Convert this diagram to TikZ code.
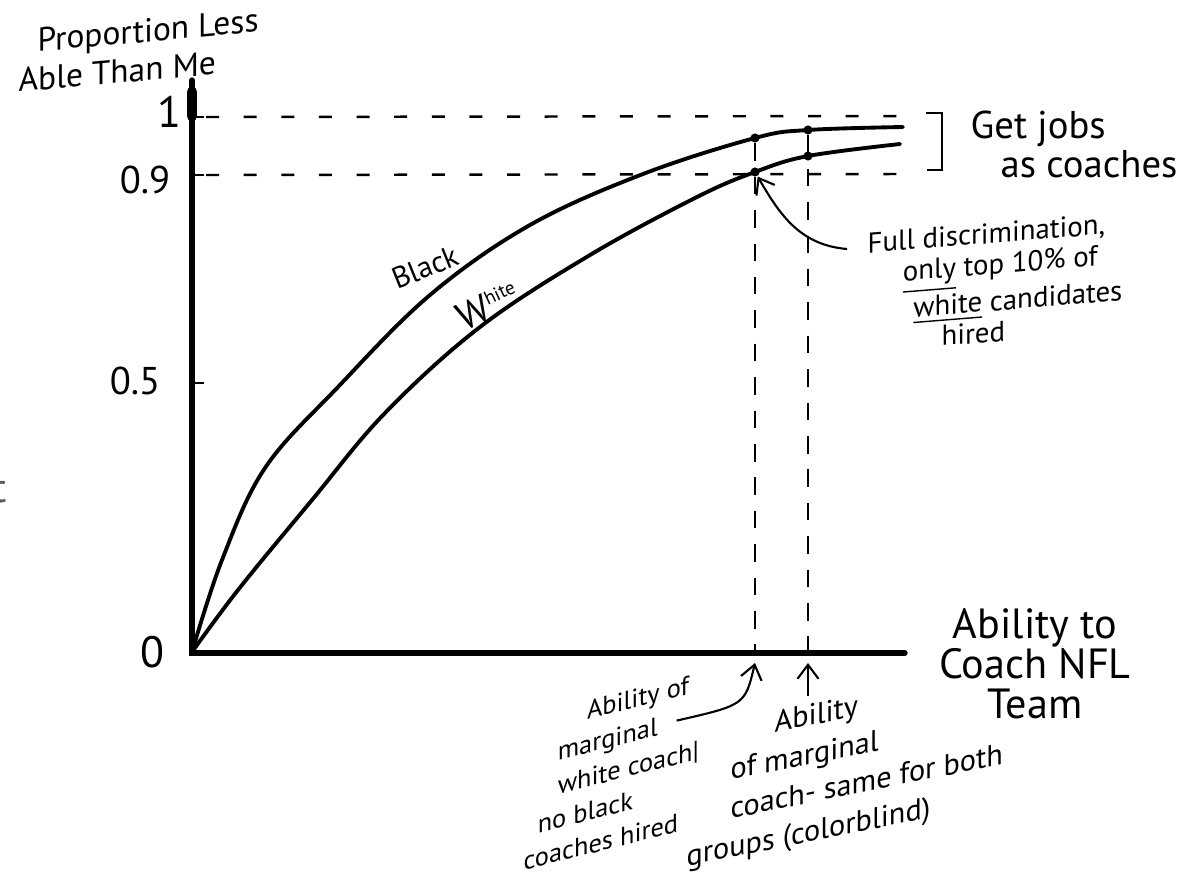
\documentclass[tikz,border=0pt]{standalone}
\usepackage{fontspec}
\setmainfont{PT Sans}
\usetikzlibrary{arrows.meta,positioning,calc}

\begin{document}
\begin{tikzpicture}[x=0.01cm,y=-0.01cm,
  axisline/.style={line width=1.5pt,line cap=round},
  curve/.style={line width=1.1pt,line cap=round},
  hguide/.style={line width=0.7pt,dash pattern=on 3.7pt off 7pt},
  vguide/.style={line width=0.7pt,dash pattern=on 5pt off 4.5pt},
  dot/.style={circle,fill=black,inner sep=0pt,minimum size=2.6pt},
  pointer/.style={-{Straight Barb[length=4pt,width=6pt]},line width=0.6pt},
  hand/.style={inner sep=0pt,align=left}]
\useasboundingbox (0,0) rectangle (1187,875);
% Axes
\coordinate (O) at (192,653);
\draw[axisline] (192,80) -- (O) -- (905,653);
\draw[line width=3pt,line cap=round] (192,92) -- (192,116);
% Ticks and their values
\foreach \y in {117,175,383} {
  \draw[line width=0.6pt] (192,\y) -- (204,\y);
}
\node[hand,font=\fontsize{12.5}{12.5}\selectfont,anchor=east] (tone) at (182,112) {1};
\node[hand,font=\fontsize{11}{11}\selectfont,anchor=east] (tnine) at (171,180) {0.9};
\node[hand,font=\fontsize{11}{11}\selectfont,anchor=east] (thalf) at (161,381) {0.5};
\node[hand,font=\fontsize{12.5}{12.5}\selectfont,anchor=east] (tzero) at (165,652) {0};
% Guide lines at 1 and 0.9
\coordinate (oneend) at (907,116);
\coordinate (nineend) at (897,174);
\draw[hguide] (206,117) -- (oneend);
\draw[hguide] (206,175) -- (nineend);
% Bracket for the hired ones
\draw[line width=0.8pt] (926,113) -- (942,113) -- (942,170) -- (927,170);
% Curves
\draw[curve] plot[smooth,tension=0.6] coordinates {(192,652) (222,560) (265,468) (338,387) (430,295) (530,225) (643,174) (755,138) (808,130) (903,127)};
\draw[curve] plot[smooth,tension=0.6] coordinates {(192,652) (238,590) (312,500) (385,413) (480,327) (590,255) (697,197) (755,172) (808,156) (900,144)};
% Marked points
\foreach \n/\x/\y in {b1/755/138,b2/808/130,w1/755/172,w2/808/156} {
  \node[dot] (\n) at (\x,\y) {};
}
\coordinate (mwhite) at (755,663);
\coordinate (mboth) at (808,663);
\draw[vguide] (b1) -- (b1 |- O);
\draw[vguide] (b2) -- (b2 |- O);
% Curve names
\node[hand,font=\fontsize{8.5}{8.5}\selectfont,rotate=22] (black) at (425,267) {Black};
\node[hand,font=\fontsize{11}{11}\selectfont,rotate=25] (white) at (488,306) {W\raisebox{4pt}{\fontsize{5.5}{5.5}\selectfont hite}};
% Axis titles
\node[hand,font=\fontsize{9.5}{11}\selectfont,anchor=north west,yslant=0.09] (ytitle) at (18,29) {\hspace*{5.4pt}Proportion Less\\Able Than Me};
\node[hand,font=\fontsize{12}{11.4}\selectfont,align=center] (xtitle) at (1035,664) {Ability to\\Coach NFL\\Team};
\node[hand,font=\fontsize{11}{9}\selectfont,anchor=north west] (jobs) at (970,110) {Get jobs\\\hspace*{8.5pt}as coaches};
% Notes
\node[hand,font=\fontsize{8.2}{8.8}\selectfont,anchor=north west,yslant=0.08] (fulldisc) at (867,232) {Full discrimination,\\\hspace*{10pt}\underline{only} top 10\% of\\\hspace*{13pt}\underline{white} candidates\\\hspace*{21pt}hired};
\draw[pointer] ($(fulldisc.north west)+(-20,17)$) .. controls (800,245) and (780,215) .. (w1);
\node[hand,font=\fontsize{7.5}{9.6}\selectfont,anchor=north west,yslant=0.25] (margwhite) at (523,716) {\hspace*{18pt}Ability of\\\hspace*{9.7pt}marginal\\\hspace*{9.7pt}white coach|\\\hspace*{4pt}no black\\coaches hired};
\draw[pointer] ($(margwhite.east)+(-23,-29)$) .. controls (745,705) .. (mwhite);
\node[hand,font=\fontsize{8.6}{11}\selectfont,anchor=north west,yslant=0.2] (margboth) at (686,728) {\hspace*{25pt}Ability\\\hspace*{12.5pt}of marginal\\\hspace*{12.5pt}coach- same for both\\groups (colorblind)};
\draw[pointer] (margboth.north -| mboth) -- (mboth);
% Stray letter at the left edge
\node[inner sep=0pt,text=black!65,font=\fontsize{12}{12}\selectfont,anchor=east] (edge) at (8,490) {t};
\end{tikzpicture}
\end{document}
